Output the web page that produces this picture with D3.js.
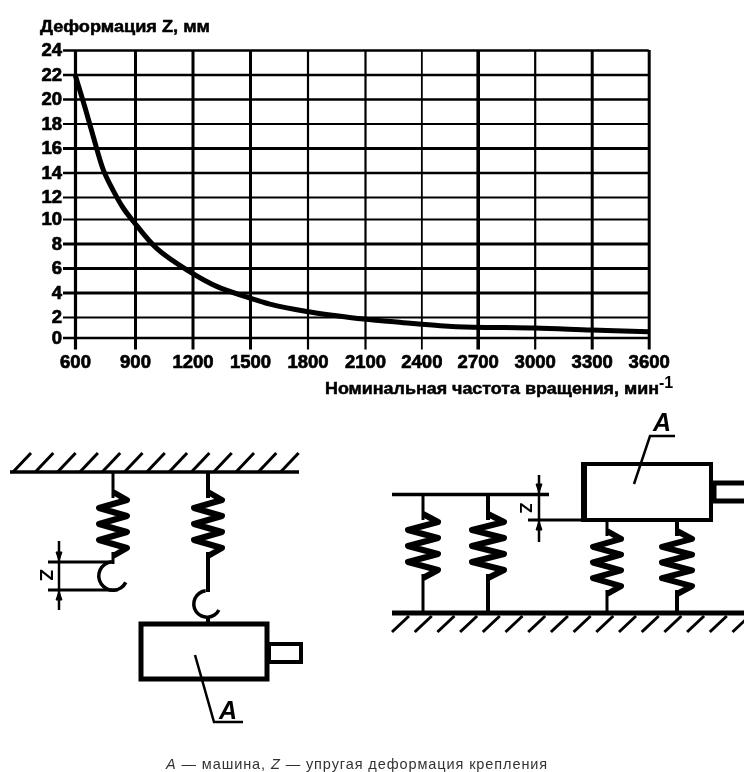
<!DOCTYPE html>
<html>
<head>
<meta charset="utf-8">
<script src="https://cdn.jsdelivr.net/npm/d3@7"></script>
<style>
  html, body { margin: 0; padding: 0; background: #fff; }
  text { font-family: "Liberation Sans", Arial, sans-serif; fill: #000; }
</style>
</head>
<body>
<div id="chart"></div>
<script>
// values
const rpmTicks = [600, 900, 1200, 1500, 1800, 2100, 2400, 2700, 3000, 3300, 3600];
const zTicks = [0, 2, 4, 6, 8, 10, 12, 14, 16, 18, 20, 22, 24];
const curveRpm = [600, 650, 692, 742, 792, 841, 892, 1013, 1170, 1326, 1500, 1604, 1796, 1952, 2092, 2304, 2500, 2675, 3000, 3300, 3600];
const curveZ = [22, 19.3, 16.9, 14.2, 12.5, 11.0, 9.8, 7.6, 5.85, 4.5, 3.55, 3.05, 2.45, 2.1, 1.8, 1.45, 1.15, 1.0, 0.93, 0.73, 0.57];

// the scan is not quite even, so both scales are piecewise
const xKnots = [600, 900, 2100, 2700, 3600];
const xPixels = [75, 135, 365, 477.7, 648.7];
const yKnots = [0, 2, 10, 12, 24];
const yPixels = [337.5, 317, 219, 197, 50];

// line weights of the grid vary in the original
const vWidths = [3.2, 3, 3, 3, 2.2, 2.2, 1.8, 3.6, 2.2, 3, 3];
const hWidths = [2.5, 2, 3, 3, 3, 2, 2, 2.5, 3, 2, 2.5, 2.5, 2.5];

const width = 744;
const height = 772;

const svg = d3.select("#chart")
  .append("svg")
    .attr("width", width)
    .attr("height", height)
    .style("display", "block");

const defs = svg.append("defs");
defs.append("filter").attr("id", "scan")
    .attr("x", 0).attr("y", 0).attr("width", 1).attr("height", 1)
    .attr("filterUnits", "objectBoundingBox")
  .append("feGaussianBlur").attr("stdDeviation", 0.5);

svg.append("rect").attr("width", width).attr("height", height).attr("fill", "#fff");

const page = svg.append("g").attr("filter", "url(#scan)");

const x = d3.scaleLinear().domain(xKnots).range(xPixels);
const y = d3.scaleLinear().domain(yKnots).range(yPixels);

// ---- chart ----
const xAxis = d3.axisBottom(x).tickValues(rpmTicks).tickFormat(d => d).tickSizeOuter(0);
const yAxis = d3.axisLeft(y).tickValues(zTicks).tickFormat(d => d).tickSizeOuter(0);

const gx = page.append("g").attr("transform", `translate(0,${y(0)})`).call(xAxis);
const gy = page.append("g").attr("transform", `translate(${x(600)},0)`).call(yAxis);
gx.select(".domain").remove();
gy.select(".domain").remove();

gx.selectAll(".tick line")
    .attr("y1", y(24) - y(0))
    .attr("y2", 12)
    .attr("stroke", "#000")
    .attr("stroke-width", (d, i) => vWidths[i]);
gy.selectAll(".tick line")
    .attr("x1", -12)
    .attr("x2", x(3600) - x(600))
    .attr("stroke", "#000")
    .attr("stroke-width", (d, i) => hWidths[i]);

gx.selectAll(".tick text")
    .attr("y", 17.5)
    .attr("dy", "0.71em")
    .attr("font-size", 18.5)
    .attr("font-weight", "bold")
    .attr("font-family", "Liberation Sans")
    .attr("stroke", "#000").attr("stroke-width", 0.7);
gy.selectAll(".tick text")
    .attr("x", -13)
    .attr("font-size", 18.5)
    .attr("font-weight", "bold")
    .attr("font-family", "Liberation Sans")
    .attr("stroke", "#000").attr("stroke-width", 0.7);

const line = d3.line()
    .x(d => x(d[0]))
    .y(d => y(d[1]))
    .curve(d3.curveCatmullRom);

page.append("path")
    .datum(curveRpm.map((r, i) => [r, curveZ[i]]))
    .attr("d", line)
    .attr("fill", "none")
    .attr("stroke", "#000")
    .attr("stroke-width", 5);

page.append("text")
    .attr("x", 40).attr("y", 32)
    .attr("font-size", 16).attr("font-weight", "bold")
    .attr("textLength", 170).attr("lengthAdjust", "spacingAndGlyphs")
    .attr("stroke", "#000").attr("stroke-width", 0.5)
    .text("Деформация Z, мм");

page.append("text")
    .attr("x", 325).attr("y", 394)
    .attr("font-size", 16).attr("font-weight", "bold")
    .attr("textLength", 334).attr("lengthAdjust", "spacingAndGlyphs")
    .attr("stroke", "#000").attr("stroke-width", 0.5)
    .text("Номинальная частота вращения, мин");
page.append("text")
    .attr("x", 659).attr("y", 388)
    .attr("font-size", 16).attr("font-weight", "bold")
    .text("-1");

// ---- schematics ----
const ink = (sel, w) => sel.attr("fill", "none").attr("stroke", "#000").attr("stroke-width", w);

function seg(x1, y1, x2, y2, w) {
  ink(page.append("line").attr("x1", x1).attr("y1", y1).attr("x2", x2).attr("y2", y2), w);
}

function hatch(x0, y0, dx, dy, step, n, w) {
  d3.range(n).forEach(i => seg(x0 + i * step, y0, x0 + i * step + dx, y0 + dy, w));
}

// zigzag with seven peaks between two wire ends
function spring(cx, top, bottom, amp) {
  const step = (bottom - top) / 7;
  const pts = [[cx, top - 4]];
  d3.range(7).forEach(i => pts.push([cx + (i % 2 ? -amp : amp), top + step * (i + 0.5)]));
  pts.push([cx, bottom + 4]);
  ink(page.append("path").attr("d", d3.line()(pts)), 6).attr("stroke-linejoin", "round");
}

function hook(cx, cy, r, w) {
  const arc = d3.arc().innerRadius(r).outerRadius(r + w)
      .startAngle(-0.1).endAngle(-4.25);
  page.append("path").attr("transform", `translate(${cx},${cy})`).attr("d", arc()).attr("fill", "#000");
}

function dimArrow(ax, tipY, dir) {
  page.append("path")
      .attr("d", d3.line()([[ax - 3, tipY + dir * 9], [ax, tipY], [ax + 3, tipY + dir * 9]]) + "Z")
      .attr("fill", "#000").attr("stroke", "#000");
}

function dimZ(tx, ty, size) {
  page.append("text")
      .attr("transform", `translate(${tx},${ty}) rotate(90)`)
      .attr("text-anchor", "middle")
      .attr("font-size", size).attr("font-weight", "bold")
      .text("Z");
}

function label(tx, ty) {
  page.append("text").attr("x", tx).attr("y", ty)
      .attr("font-size", 25).attr("font-weight", "bold").attr("font-style", "italic")
      .text("A");
}

// left: hanging on springs
seg(10, 472, 299, 472, 3.5);
hatch(13, 472, 18, -19, 22.3, 13, 3);
seg(113, 472, 113, 498, 3);
spring(113, 496, 552, 14);
seg(113, 552, 113, 564, 3);
hook(113, 576, 12.5, 3.5);
seg(48, 562, 112, 562, 3);
seg(48, 590, 118, 590, 3);
seg(59, 541, 59, 610, 2.5);
dimArrow(59, 561, -1);
dimArrow(59, 591, 1);
dimZ(40, 575, 19);

seg(208, 472, 208, 498, 4);
spring(208, 496, 552, 14);
seg(208, 552, 208, 592, 4);
hook(207, 604, 11.5, 3.5);
seg(208, 616, 208, 624, 4);
ink(page.append("rect").attr("x", 141).attr("y", 624).attr("width", 126).attr("height", 55), 5);
ink(page.append("rect").attr("x", 269).attr("y", 644).attr("width", 32).attr("height", 18), 4);
ink(page.append("path").attr("d", d3.line()([[195, 655], [214, 722], [243, 722]])), 2.5);
label(219, 719);

// right: standing on springs
seg(392, 494.5, 549, 494.5, 3.5);
seg(392, 613, 744, 613, 5);
hatch(392, 632, 17, -16, 22.7, 16, 3);

seg(423, 494, 423, 520, 3);
spring(423, 518, 574, 15);
seg(423, 574, 423, 613, 3);
seg(488, 494, 488, 520, 4);
spring(488, 518, 574, 16);
seg(488, 574, 488, 613, 4);
seg(607, 521, 607, 536, 3);
spring(607, 535, 590, 14);
seg(607, 590, 607, 613, 3);
seg(677, 521, 677, 536, 4);
spring(677, 535, 590, 15);
seg(677, 590, 677, 613, 4);

ink(page.append("rect").attr("x", 585).attr("y", 464).attr("width", 126).attr("height", 56), 4);
seg(584, 462, 584, 522, 6);
ink(page.append("path").attr("d", d3.line()([[744, 483], [714, 483], [714, 501], [744, 501]])), 5);
seg(528, 520, 583, 520, 3);
seg(539, 475, 539, 542, 2.5);
dimArrow(539, 493, -1);
dimArrow(539, 521, 1);
dimZ(520, 508, 17);
ink(page.append("path").attr("d", d3.line()([[634, 484], [650, 436], [675, 436]])), 2.5);
label(653, 431);

// caption
const caption = page.append("text")
    .attr("x", 166).attr("y", 769)
    .attr("font-size", 14.5)
    .attr("letter-spacing", 0.9)
    .style("fill", "#333");
caption.append("tspan").attr("font-style", "italic").text("A");
caption.append("tspan").text(" — машина, ");
caption.append("tspan").attr("font-style", "italic").text("Z");
caption.append("tspan").text(" — упругая деформация крепления");
</script>
</body>
</html>
